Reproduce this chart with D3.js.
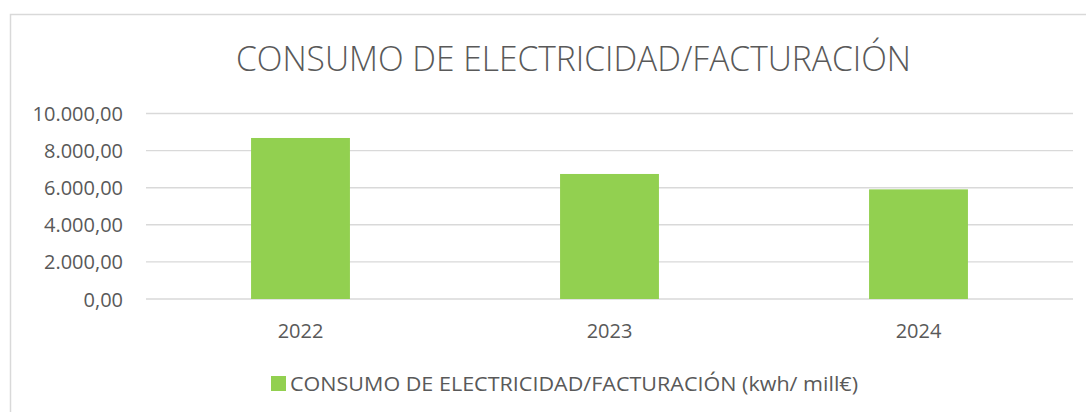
<!DOCTYPE html>
<html>
<head>
<meta charset="utf-8">
<script src="https://cdn.jsdelivr.net/npm/d3@7"></script>
<style>
  html, body { margin: 0; padding: 0; background: #fff; }
  svg { display: block; }
  text { font-family: "Open Sans", "Noto Sans", sans-serif; fill: #595959; }
</style>
</head>
<body>
<svg id="chart" width="1086" height="412"></svg>
<script>
const categories = ["2022", "2023", "2024"];
const values = [8680, 6740, 5910];
const yTicks = [0, 2000, 4000, 6000, 8000, 10000];
const titleText = "CONSUMO DE ELECTRICIDAD/FACTURACIÓN";
const seriesName = "CONSUMO DE ELECTRICIDAD/FACTURACIÓN (kwh/ mill€)";

const svg = d3.select("#chart");
const plot = { left: 146, right: 1073, top: 113.5, bottom: 299 };

// chart frame (only top & left visible in reference)
svg.append("rect")
  .attr("x", 10.5).attr("y", 14.5)
  .attr("width", 1200).attr("height", 500)
  .attr("fill", "#fff").attr("stroke", "#d9d9d9").attr("stroke-width", 1.5);

const x = d3.scaleBand().domain(categories).range([plot.left, plot.right]).paddingInner(0.68).paddingOuter(0.34);
const y = d3.scaleLinear().domain([0, 10000]).range([plot.bottom, plot.top]);

const fmt = v => {
  const s = d3.format(",.2f")(v);
  return s.replace(/,/g, "#").replace(/\./g, ",").replace(/#/g, ".");
};

// gridlines
svg.append("g").selectAll("line").data(yTicks).join("line")
  .attr("x1", plot.left).attr("x2", plot.right)
  .attr("y1", d => y(d)).attr("y2", d => y(d))
  .attr("stroke", "#d9d9d9").attr("stroke-width", 1.4);

// y axis labels
const yAxis = d3.axisLeft(y).tickValues(yTicks).tickFormat(fmt).tickSize(0).tickPadding(0);
const yg = svg.append("g").attr("transform", `translate(123,0)`).call(yAxis);
yg.select(".domain").remove();
yg.selectAll("text").style("font-size", "20px").style("fill", "#595959")
  .attr("font-family", null).attr("dy", "0.35em");

// bars
svg.append("g").selectAll("rect").data(values).join("rect")
  .attr("x", (d, i) => x(categories[i]))
  .attr("width", x.bandwidth())
  .attr("y", d => y(d))
  .attr("height", d => y(0) - y(d))
  .attr("fill", "#92d050");

// x axis labels
const xAxis = d3.axisBottom(x).tickSize(0).tickPadding(0);
const xg = svg.append("g").attr("transform", `translate(0,${plot.bottom})`).call(xAxis);
xg.select(".domain").remove();
xg.selectAll("text").style("font-size", "20px").style("fill", "#595959")
  .attr("font-family", null).attr("dy", null).attr("y", 39);

// title
svg.append("text")
  .attr("x", 573.5).attr("y", 70.5)
  .attr("text-anchor", "middle")
  .attr("textLength", 675).attr("lengthAdjust", "spacingAndGlyphs")
  .style("font-size", "35px").style("font-weight", 300)
  .text(titleText);

// legend
const lg = svg.append("g");
lg.append("rect").attr("x", 271).attr("y", 376).attr("width", 15).attr("height", 15).attr("fill", "#92d050");
lg.append("text").attr("x", 290).attr("y", 391)
  .attr("textLength", 568).attr("lengthAdjust", "spacingAndGlyphs")
  .style("font-size", "20px")
  .text(seriesName);
</script>
</body>
</html>
